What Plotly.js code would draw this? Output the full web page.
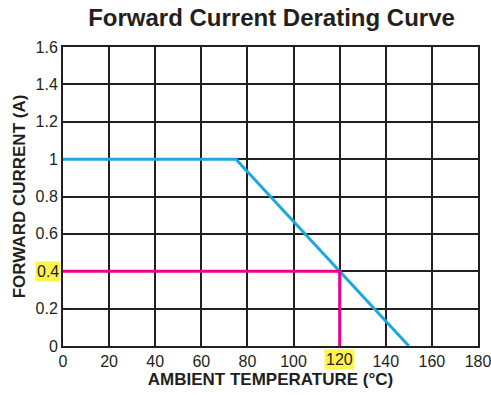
<!DOCTYPE html>
<html><head><meta charset="utf-8">
<script src="https://cdn.plot.ly/plotly-3.0.1.min.js"></script>
<style>html,body{margin:0;padding:0;background:#fff}#c{width:491px;height:395px}</style>
</head><body><div id="c"></div>
<script>
const curveX = [0, 75, 150];
const curveY = [1, 1, 0];
const markX = [0, 120, 120];
const markY = [0.4, 0.4, 0];
const xTicks = [0, 20, 40, 60, 80, 100, 120, 140, 160, 180];
const yTicks = [0, 0.2, 0.4, 0.6, 0.8, 1, 1.2, 1.4, 1.6];
const xTickText = ['0','20','40','60','80','100','','140','160','180'];
const yTickText = ['0','0.2','','0.6','0.8','1','1.2','1.4','1.6'];
const hiX = 120, hiY = 0.4;

const ink = '#231f20';
const traces = [
  {x: curveX, y: curveY, mode: 'lines', line: {color: '#1ba8e0', width: 3}, hoverinfo: 'skip'},
  {x: markX, y: markY, mode: 'lines', line: {color: '#ec008c', width: 3}, hoverinfo: 'skip'}
];
const fam = 'Liberation Sans, Arial, sans-serif';
const fnt = {family: fam, size: 16, color: ink};
const layout = {
  width: 491, height: 395,
  margin: {l: 63, r: 13, t: 47, b: 49},
  paper_bgcolor: '#fff', plot_bgcolor: '#fff',
  showlegend: false,
  title: {text: '<b>Forward Current Derating Curve</b>', x: 0.553, xanchor: 'center', y: 0.955, yanchor: 'middle',
          font: {family: fam, size: 24, color: ink}},
  xaxis: {range: [0, 180], tickvals: xTicks, ticktext: xTickText, tickfont: fnt, ticklabeloverflow: 'allow',
          showgrid: true, gridcolor: ink, gridwidth: 2, zeroline: false,
          showline: true, mirror: true, linecolor: ink, linewidth: 2, ticks: '', ticklen: 0,
          title: {text: '<b>AMBIENT TEMPERATURE (°C)</b>', standoff: 4,
                  font: {family: fam, size: 17, color: ink}}},
  yaxis: {range: [0, 1.6], tickvals: yTicks, ticktext: yTickText, tickfont: fnt,
          showgrid: true, gridcolor: ink, gridwidth: 2, zeroline: false,
          showline: true, mirror: true, linecolor: ink, linewidth: 2, ticks: '', ticklen: 0,
          title: {text: '<b>FORWARD CURRENT (A)</b>', standoff: 6,
                  font: {family: fam, size: 17, color: ink}}},
  annotations: [
    {xref: 'x', yref: 'paper', x: hiX, y: 0, yanchor: 'top', yshift: -3, text: String(hiX), showarrow: false,
     bgcolor: '#fff34d', font: fnt, borderpad: 1},
    {xref: 'paper', yref: 'y', x: 0, y: hiY, xanchor: 'right', xshift: -2, text: String(hiY), showarrow: false,
     bgcolor: '#fff34d', font: fnt, borderpad: 1}
  ]
};
Plotly.newPlot('c', traces, layout, {displayModeBar: false, staticPlot: true});
</script></body></html>
